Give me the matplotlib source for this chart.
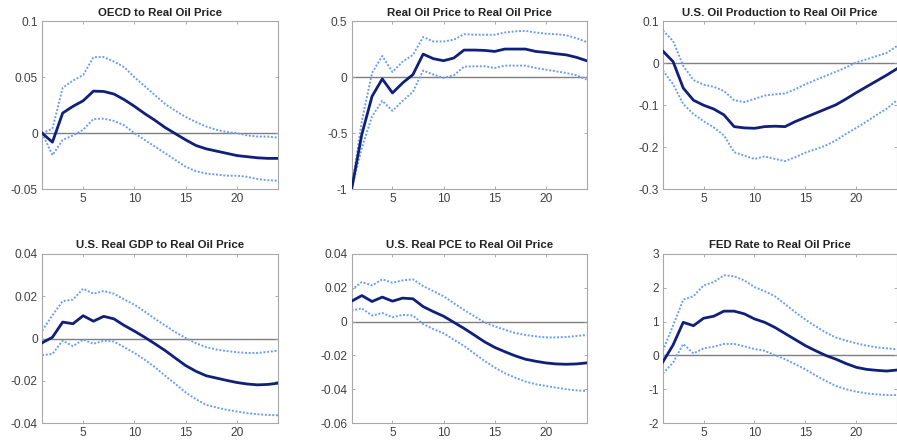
import numpy as np
import matplotlib.pyplot as plt

plt.rcParams['font.family'] = ['Liberation Sans', 'DejaVu Sans']

h = np.arange(1, 25)

titles = ['OECD to Real Oil Price', 'Real Oil Price to Real Oil Price',
          'U.S. Oil Production to Real Oil Price', 'U.S. Real GDP to Real Oil Price',
          'U.S. Real PCE to Real Oil Price', 'FED Rate to Real Oil Price']

# impulse responses: median, upper and lower bands
oecd_mid = [0, -0.008, 0.018, 0.024, 0.029, 0.0376, 0.0373, 0.035, 0.030, 0.024, 0.0175, 0.0115,
            0.005, -0.0005, -0.006, -0.011, -0.014, -0.016, -0.018, -0.020, -0.021, -0.022, -0.0225, -0.0225]
oecd_up = [0, 0.004, 0.0406, 0.047, 0.052, 0.068, 0.068, 0.064, 0.059, 0.050, 0.042, 0.034,
           0.026, 0.020, 0.0145, 0.010, 0.006, 0.003, 0.001, 0.0, -0.002, -0.003, -0.003, -0.004]
oecd_lo = [0, -0.0196, -0.006, -0.002, 0.003, 0.0127, 0.013, 0.011, 0.007, 0.0, -0.006, -0.012,
           -0.018, -0.024, -0.030, -0.034, -0.036, -0.037, -0.038, -0.038, -0.039, -0.041, -0.042, -0.0424]

oil_mid = [-1.0, -0.51, -0.17, -0.015, -0.14, -0.05, 0.024, 0.207, 0.166, 0.148, 0.172, 0.243,
           0.243, 0.24, 0.231, 0.252, 0.252, 0.252, 0.231, 0.222, 0.21, 0.20, 0.178, 0.148]
oil_up = [-1.0, -0.39, 0.04, 0.19, 0.047, 0.14, 0.20, 0.36, 0.32, 0.32, 0.335, 0.385,
          0.38, 0.38, 0.38, 0.40, 0.41, 0.415, 0.40, 0.39, 0.385, 0.375, 0.35, 0.315]
oil_lo = [-1.0, -0.63, -0.35, -0.21, -0.30, -0.21, -0.13, 0.06, 0.024, -0.006, 0.018, 0.095,
          0.098, 0.098, 0.083, 0.104, 0.104, 0.104, 0.083, 0.068, 0.053, 0.038, 0.018, -0.02]

prod_mid = [0.029, 0.004, -0.059, -0.088, -0.10, -0.109, -0.123, -0.151, -0.154, -0.155, -0.151, -0.150,
            -0.151, -0.139, -0.129, -0.119, -0.109, -0.099, -0.085, -0.070, -0.056, -0.042, -0.028, -0.013]
prod_up = [0.078, 0.053, -0.006, -0.040, -0.051, -0.056, -0.066, -0.088, -0.0925, -0.085, -0.077, -0.074,
           -0.072, -0.062, -0.050, -0.040, -0.030, -0.020, -0.010, 0.002, 0.0095, 0.017, 0.025, 0.041]
prod_lo = [-0.017, -0.05, -0.097, -0.121, -0.138, -0.153, -0.172, -0.212, -0.220, -0.228, -0.222, -0.228,
           -0.233, -0.224, -0.213, -0.205, -0.196, -0.184, -0.168, -0.154, -0.139, -0.123, -0.108, -0.088]

gdp_mid = [-0.002, 0.0006, 0.0078, 0.007, 0.0108, 0.0082, 0.0105, 0.0093, 0.0062, 0.0035, 0.0006, -0.0025,
           -0.0057, -0.0093, -0.0128, -0.0155, -0.0176, -0.0187, -0.0198, -0.0208, -0.0215, -0.0219, -0.0217, -0.0211]
gdp_up = [0.0038, 0.011, 0.0177, 0.0184, 0.0236, 0.0212, 0.0225, 0.0212, 0.0185, 0.016, 0.0128, 0.0093,
          0.0062, 0.003, 0.0002, -0.0022, -0.0041, -0.0052, -0.0059, -0.0065, -0.0068, -0.0068, -0.0063, -0.0057]
gdp_lo = [-0.0078, -0.0073, -0.001, -0.0036, -0.0005, -0.0025, -0.001, -0.0014, -0.0041, -0.0068, -0.010, -0.0136,
          -0.0176, -0.0215, -0.0255, -0.0287, -0.0314, -0.0326, -0.0337, -0.0345, -0.0353, -0.0358, -0.0361, -0.0363]

pce_mid = [0.0121, 0.0154, 0.0119, 0.0145, 0.0121, 0.0139, 0.0135, 0.0089, 0.0059, 0.0032, -0.0004, -0.004,
           -0.0079, -0.0119, -0.0152, -0.0178, -0.0202, -0.0222, -0.0234, -0.0244, -0.025, -0.0252, -0.025, -0.0244]
pce_up = [0.0188, 0.0234, 0.0214, 0.025, 0.023, 0.0244, 0.025, 0.021, 0.018, 0.015, 0.0109, 0.0069,
          0.0032, -0.0004, -0.0028, -0.0048, -0.0067, -0.0079, -0.0087, -0.0093, -0.0093, -0.0091, -0.0085, -0.0079]
pce_lo = [0.0065, 0.0079, 0.0036, 0.0051, 0.0026, 0.004, 0.0036, -0.0014, -0.0044, -0.0069, -0.0107, -0.0143,
          -0.0188, -0.0232, -0.0271, -0.0305, -0.0331, -0.0354, -0.037, -0.038, -0.039, -0.04, -0.0406, -0.041]

fed_mid = [-0.19, 0.31, 0.98, 0.88, 1.10, 1.16, 1.31, 1.31, 1.23, 1.08, 0.98, 0.83,
           0.65, 0.47, 0.29, 0.14, 0.0, -0.11, -0.24, -0.35, -0.41, -0.44, -0.46, -0.43]
fed_up = [0.14, 0.88, 1.65, 1.75, 2.07, 2.17, 2.37, 2.34, 2.22, 2.02, 1.90, 1.75,
          1.52, 1.28, 1.06, 0.86, 0.68, 0.53, 0.44, 0.36, 0.29, 0.24, 0.21, 0.18]
fed_lo = [-0.53, -0.21, 0.34, 0.06, 0.21, 0.26, 0.34, 0.34, 0.27, 0.19, 0.14, 0.01,
          -0.11, -0.26, -0.41, -0.59, -0.75, -0.90, -1.0, -1.07, -1.12, -1.15, -1.17, -1.17]

mids = [oecd_mid, oil_mid, prod_mid, gdp_mid, pce_mid, fed_mid]
ups = [oecd_up, oil_up, prod_up, gdp_up, pce_up, fed_up]
los = [oecd_lo, oil_lo, prod_lo, gdp_lo, pce_lo, fed_lo]

ylims = [(-0.05, 0.1), (-1, 0.5), (-0.3, 0.1), (-0.04, 0.04), (-0.06, 0.04), (-2, 3)]
yticks = [[-0.05, 0, 0.05, 0.1], [-1, -0.5, 0, 0.5], [-0.3, -0.2, -0.1, 0, 0.1],
          [-0.04, -0.02, 0, 0.02, 0.04], [-0.06, -0.04, -0.02, 0, 0.02, 0.04], [-2, -1, 0, 1, 2, 3]]
ylabels = [['-0.05', '0', '0.05', '0.1'], ['-1', '-0.5', '0', '0.5'], ['-0.3', '-0.2', '-0.1', '0', '0.1'],
           ['-0.04', '-0.02', '0', '0.02', '0.04'], ['-0.06', '-0.04', '-0.02', '0', '0.02', '0.04'],
           ['-2', '-1', '0', '1', '2', '3']]

fig = plt.figure(figsize=(8.97, 4.44), dpi=100)

lefts = [0.047, 0.392, 0.739]
widths = [0.263, 0.262, 0.261]
bottoms = [0.574, 0.047]
heights = [0.378, 0.381]

for i in range(6):
    r, c = divmod(i, 3)
    ax = fig.add_axes([lefts[c], bottoms[r], widths[c], heights[r]])
    ax.axhline(0, color='#7f7f7f', lw=1.0, zorder=1)
    ax.plot(h, ups[i], ls=(0, (1, 0.9)), color='#6b9ef2', lw=1.4, zorder=2)
    ax.plot(h, los[i], ls=(0, (1, 0.9)), color='#6b9ef2', lw=1.4, zorder=2)
    ax.plot(h, mids[i], color='#10207a', lw=2.0, zorder=3)
    ax.set_xlim(1, 24)
    ax.set_ylim(*ylims[i])
    ax.set_xticks([5, 10, 15, 20])
    ax.set_yticks(yticks[i])
    ax.set_yticklabels(ylabels[i])
    ax.tick_params(direction='in', length=2.5, width=0.6, colors='#a0a0a0',
                   labelcolor='#404040', labelsize=8.6, top=True, right=True, pad=3)
    for s in ax.spines.values():
        s.set_color('#a8a8a8')
        s.set_linewidth(0.8)
    ax.set_title(titles[i], fontsize=8.2, fontweight='bold', color='#222222', pad=4)

fig.savefig('out.png', dpi=100)
